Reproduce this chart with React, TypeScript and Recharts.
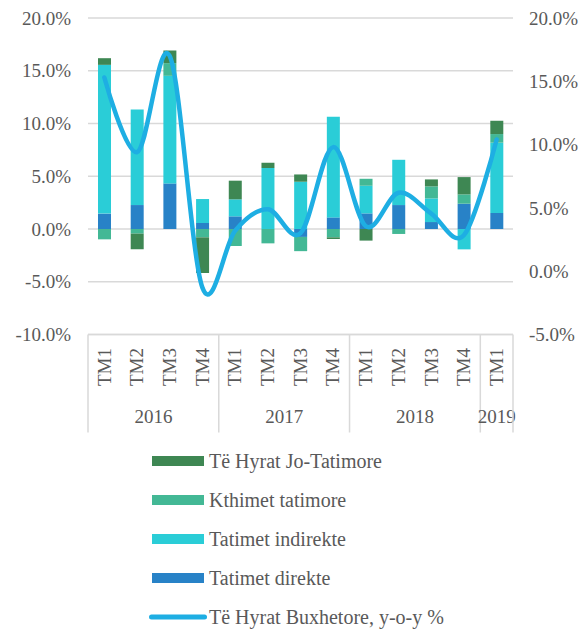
import React from 'react';
import { ComposedChart, Bar, Line, XAxis, YAxis, CartesianGrid, Legend } from 'recharts';

const quarters = ['TM1', 'TM2', 'TM3', 'TM4', 'TM1', 'TM2', 'TM3', 'TM4', 'TM1', 'TM2', 'TM3', 'TM4', 'TM1'];
const years = ['2016', '2016', '2016', '2016', '2017', '2017', '2017', '2017', '2018', '2018', '2018', '2018', '2019'];

const direct = [1.46, 2.27, 4.32, 0.57, 1.2, 0, -0.75, 1.1, 1.48, 2.27, 0.66, 2.4, 1.52];
const indirect = [14.1, 9.06, 10.2, 2.27, 1.61, 5.78, 4.48, 9.53, 2.62, 4.29, 2.24, -1.93, 6.66];
const kthimet = [-0.98, -0.44, 1.2, -0.79, -1.61, -1.36, -1.35, -0.79, 0.66, -0.47, 1.14, 0.88, 0.82];
const joTatimore = [0.63, -1.48, 1.2, -3.38, 1.77, 0.5, 0.69, -0.16, -1.1, 0, 0.66, 1.64, 1.26];
const yoy = [15.3, 9.4, 17.0, -1.3, 3.2, 4.9, 3.0, 9.8, 3.55, 6.2, 4.55, 2.85, 10.4];

const leftTicks = [-10, -5, 0, 5, 10, 15, 20];
const rightTicks = [-5, 0, 5, 10, 15, 20];

const data = quarters.map((q, i) => ({
  label: q,
  year: years[i],
  direct: direct[i],
  indirect: indirect[i],
  kthimet: kthimet[i],
  jo: joTatimore[i],
  yoy: yoy[i],
}));

const FONT = "'Liberation Serif', 'Times New Roman', serif";
const TEXT = '#595959';
const GRID = '#d9d9d9';

// Cardinal (Catmull-Rom like) curve, similar to Excel's smoothed line
const smoothCurve: any = (context: any) => {
  const k = 1 / 6;
  let x0 = NaN, y0 = NaN, x1 = NaN, y1 = NaN, x2 = NaN, y2 = NaN, pt = 0;
  const seg = (x: number, y: number) => {
    context.bezierCurveTo(
      x1 + k * (x2 - x0),
      y1 + k * (y2 - y0),
      x2 + k * (x1 - x),
      y2 + k * (y1 - y),
      x2,
      y2
    );
  };
  return {
    areaStart() {},
    areaEnd() {},
    lineStart() {
      x0 = x1 = x2 = y0 = y1 = y2 = NaN;
      pt = 0;
    },
    lineEnd() {
      if (pt === 2) context.lineTo(x2, y2);
      else if (pt === 3) seg(x1, y1);
    },
    point(x: number, y: number) {
      x = +x;
      y = +y;
      switch (pt) {
        case 0:
          pt = 1;
          context.moveTo(x, y);
          break;
        case 1:
          pt = 2;
          x1 = x;
          y1 = y;
          break;
        case 2:
          pt = 3;
          seg(x, y);
          break;
        default:
          seg(x, y);
          break;
      }
      x0 = x1; x1 = x2; x2 = x;
      y0 = y1; y1 = y2; y2 = y;
    },
  };
};

const XTick = (props: any) => {
  const { x, y, payload, index } = props;
  const band = payload && payload.offset ? payload.offset * 2 : 425 / quarters.length;
  const isGroupStart = index === 0 || years[index] !== years[index - 1];
  let groupSize = 0;
  if (isGroupStart) {
    let j = index;
    while (j < years.length && years[j] === years[index]) {
      groupSize++;
      j++;
    }
  }
  const isLast = index === quarters.length - 1;
  return (
    <g>
      <text
        transform={`translate(${x},${y + 13.5}) rotate(-90)`}
        textAnchor="end"
        dy="0.33em"
        fill={TEXT}
        fontFamily={FONT}
        fontSize={19}
      >
        {payload.value}
      </text>
      {isGroupStart && (
        <>
          <line x1={x - band / 2} x2={x - band / 2} y1={y} y2={y + 98} stroke={GRID} strokeWidth={1.5} />
          <text
            x={x - band / 2 + (groupSize * band) / 2}
            y={y + 88}
            textAnchor="middle"
            fill={TEXT}
            fontFamily={FONT}
            fontSize={19}
          >
            {years[index]}
          </text>
        </>
      )}
      {isLast && <line x1={x + band / 2} x2={x + band / 2} y1={y} y2={y + 98} stroke={GRID} strokeWidth={1.5} />}
    </g>
  );
};

const legendOrder = ['jo', 'kthimet', 'indirect', 'direct', 'yoy'];

const renderLegend = (props: any) => {
  const payload = [...(props.payload || [])].sort(
    (a: any, b: any) => legendOrder.indexOf(a.dataKey) - legendOrder.indexOf(b.dataKey)
  );
  return (
    <div style={{ display: 'flex', flexDirection: 'column' }}>
      {payload.map((it: any) => (
        <div key={it.dataKey} style={{ height: 39, display: 'flex', alignItems: 'center' }}>
          <svg width={60} height={12} style={{ display: 'block' }}>
            {it.dataKey === 'yoy' ? (
              <line x1={3.5} x2={56.5} y1={6} y2={6} stroke={it.color} strokeWidth={5} strokeLinecap="round" />
            ) : (
              <rect x={4} y={1} width={52} height={10} fill={it.color} />
            )}
          </svg>
          <span style={{ marginLeft: 1, fontFamily: FONT, fontSize: 20, color: TEXT, lineHeight: '20px' }}>
            {it.value}
          </span>
        </div>
      ))}
    </div>
  );
};

export default function App() {
  return (
    <div style={{ position: 'absolute', left: 0, top: 0, width: 583, height: 633, background: '#fff' }}>
      <ComposedChart
        width={583}
        height={633}
        data={data}
        stackOffset="sign"
        margin={{ top: 18, right: 0, bottom: 198.5, left: 0 }}
      >
        <CartesianGrid yAxisId="left" vertical={false} stroke={GRID} strokeWidth={1.5} />
        <XAxis
          dataKey="label"
          interval={0}
          height={100}
          tickSize={0}
          tickMargin={0}
          tickLine={false}
          axisLine={{ stroke: GRID, strokeWidth: 1.5 }}
          tick={<XTick />}
        />
        <YAxis
          yAxisId="left"
          orientation="left"
          width={88}
          domain={[-10, 20]}
          ticks={leftTicks}
          interval={0}
          axisLine={false}
          tickLine={false}
          tickSize={0}
          tickMargin={17}
          tickFormatter={(v: number) => `${v.toFixed(1)}%`}
          tick={{ fill: TEXT, fontFamily: FONT, fontSize: 19 }}
        />
        <YAxis
          yAxisId="right"
          orientation="right"
          width={70}
          domain={[-5, 20]}
          ticks={rightTicks}
          interval={0}
          axisLine={false}
          tickLine={false}
          tickSize={0}
          tickMargin={16}
          tickFormatter={(v: number) => `${v.toFixed(1)}%`}
          tick={{ fill: TEXT, fontFamily: FONT, fontSize: 19, textAnchor: 'start' }}
        />
        <Bar yAxisId="left" dataKey="direct" name="Tatimet direkte" stackId="a" fill="#2882C7" barSize={13} isAnimationActive={false} />
        <Bar yAxisId="left" dataKey="indirect" name="Tatimet indirekte" stackId="a" fill="#2ACDD7" barSize={13} isAnimationActive={false} />
        <Bar yAxisId="left" dataKey="kthimet" name="Kthimet tatimore" stackId="a" fill="#43B895" barSize={13} isAnimationActive={false} />
        <Bar yAxisId="left" dataKey="jo" name="Të Hyrat Jo-Tatimore" stackId="a" fill="#3E8753" barSize={13} isAnimationActive={false} />
        <Line
          yAxisId="right"
          dataKey="yoy"
          name="Të Hyrat Buxhetore, y-o-y %"
          type={smoothCurve}
          stroke="#1EAEE3"
          strokeWidth={4.5}
          strokeLinecap="round"
          dot={false}
          activeDot={false}
          isAnimationActive={false}
        />
        <Legend
          layout="vertical"
          align="center"
          verticalAlign="middle"
          content={renderLegend}
          wrapperStyle={{ position: 'absolute', top: 441.5, left: 148, width: 420, height: 195 }}
        />
      </ComposedChart>
    </div>
  );
}
